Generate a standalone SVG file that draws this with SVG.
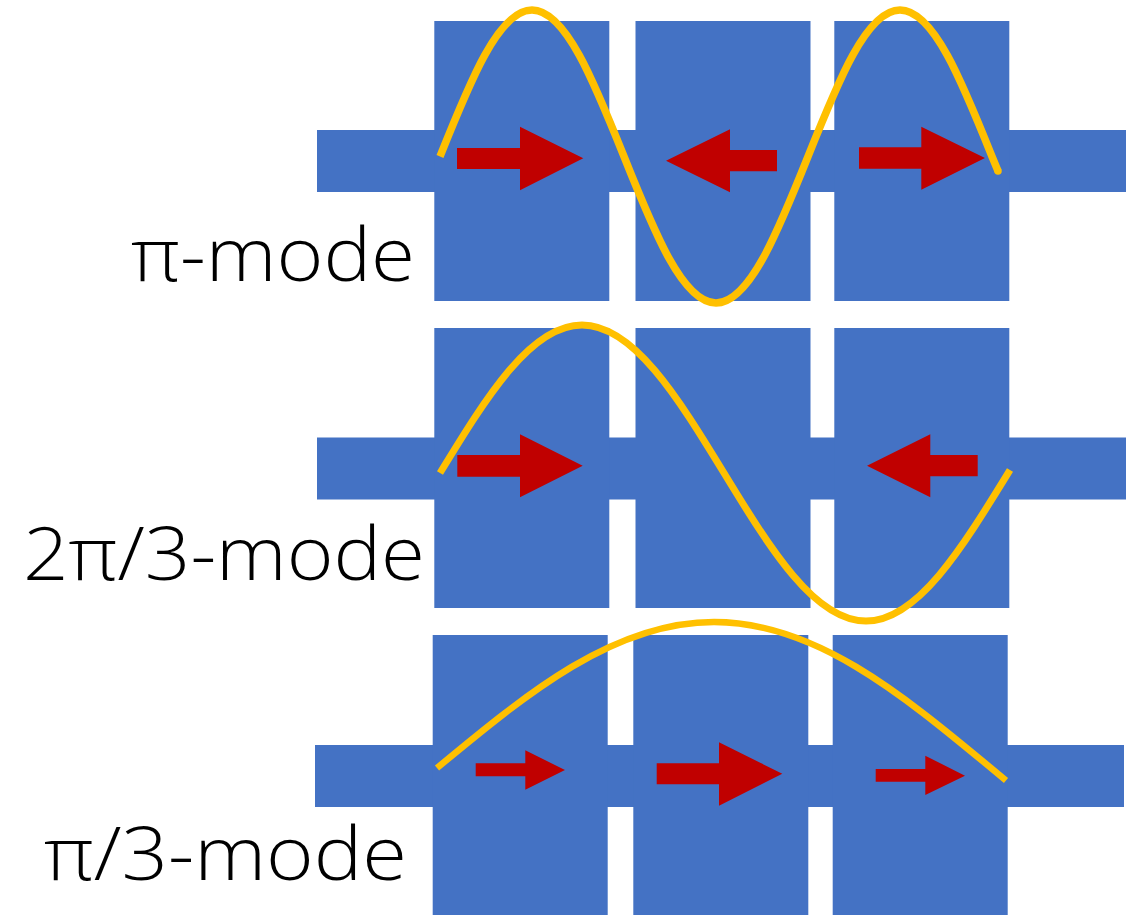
<svg xmlns="http://www.w3.org/2000/svg" width="1140" height="915" viewBox="0 0 1140 915">
  <style>
    .blk { fill: #4472C4; }
    .arr { fill: #C00000; }
    .wave { fill: none; stroke: #FFC000; stroke-linejoin: round; }
    .lbl { font-family: "Open Sans", "Liberation Sans", Arial, sans-serif; font-weight: 300; font-size: 73px; fill: #000000; }
  </style>
  <rect width="1140" height="915" fill="#FFFFFF"/>

  <!-- Row 1: pi-mode -->
  <g id="row1">
    <rect class="blk" x="317" y="130" width="809" height="62"/>
    <rect class="blk" x="434.3" y="21" width="175" height="280"/>
    <rect class="blk" x="635.5" y="21" width="175" height="280"/>
    <rect class="blk" x="834.3" y="21" width="175" height="280"/>
    <polygon class="arr" points="457,148 520,148 520,126.7 583.3,158.3 520,190.3 520,169 457,169"/>
    <polygon class="arr" points="777,150 730,150 730,129.3 666,160.7 730,192.3 730,171.3 777,171.3"/>
    <polygon class="arr" points="859,147.3 921.3,147.3 921.3,126.7 985,158 921.3,189.7 921.3,168.7 859,168.7"/>
    <path class="wave" stroke-width="7.5" stroke-linecap="butt" d="M440,156.5 C470,81.4 498.7,10 532,10 C565.3,10 594,81.4 624,156.5 C654,231.6 682.7,303 716,303 C749.3,303 778,231.6 808,156.5 C838,81.4 866.7,10 900,10 C933.3,10 962,81.4 992,156.5 L998,171"/>
    <circle cx="998" cy="171" r="3.75" fill="#FFC000"/>
    <text class="lbl" x="131" y="281" textLength="284" lengthAdjust="spacingAndGlyphs">π-mode</text>
  </g>

  <!-- Row 2: 2pi/3-mode -->
  <g id="row2">
    <rect class="blk" x="317" y="437.5" width="809" height="62"/>
    <rect class="blk" x="434.3" y="328" width="175" height="280"/>
    <rect class="blk" x="635.5" y="328" width="175" height="280"/>
    <rect class="blk" x="834.3" y="328" width="175" height="280"/>
    <polygon class="arr" points="457.3,455 520,455 520,434.3 582.7,465.7 520,497.3 520,476.7 457.3,476.7"/>
    <polygon class="arr" points="977.7,455 930.3,455 930.3,434.3 867,465.7 930.3,497.3 930.3,476.3 977.7,476.3"/>
    <path class="wave" stroke-width="7" stroke-linecap="butt" d="M440,473 C486.4,397.1 530.6,325 582,325 C633.4,325 677.6,397.1 724,473 C770.4,548.9 814.6,621 866,621 C917.4,621 961.6,548.9 1010,470"/>
    <text class="lbl" x="23" y="580" textLength="402" lengthAdjust="spacingAndGlyphs">2π/3-mode</text>
  </g>

  <!-- Row 3: pi/3-mode -->
  <g id="row3">
    <rect class="blk" x="315" y="745" width="809" height="62"/>
    <rect class="blk" x="432.7" y="635" width="175" height="280"/>
    <rect class="blk" x="633.3" y="635" width="175" height="280"/>
    <rect class="blk" x="832.7" y="635" width="175" height="280"/>
    <polygon class="arr" points="475.7,763.3 525.3,763.3 525.3,750.3 565,770 525.3,789.7 525.3,776.3 475.7,776.3"/>
    <polygon class="arr" points="656.7,763.3 719,763.3 719,742.3 782.3,773.7 719,805.7 719,784.3 656.7,784.3"/>
    <polygon class="arr" points="875.7,769 925.3,769 925.3,755.7 965,775.7 925.3,795 925.3,781.7 875.7,781.7"/>
    <path class="wave" stroke-width="6.5" stroke-linecap="butt" d="M437,768 C527.4,693.1 613.7,622 714,622 C814.3,622 900.6,693.1 991,768 L1006,780.4"/>
    <text class="lbl" x="44" y="880" textLength="363" lengthAdjust="spacingAndGlyphs">π/3-mode</text>
  </g>
</svg>
